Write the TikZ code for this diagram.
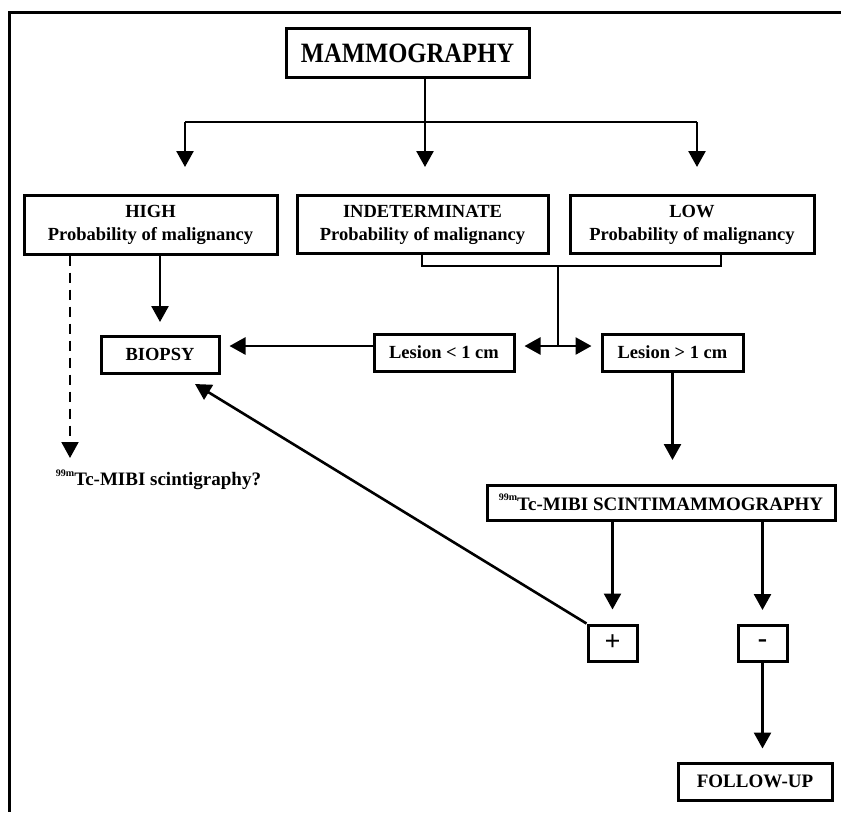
\documentclass[tikz,border=0pt]{standalone}
\usepackage{fontspec}
\setmainfont{Liberation Serif}
\usetikzlibrary{arrows.meta,calc}
\newcommand{\supnn}[1]{\raisebox{0.5em}{\fontsize{10}{10}\selectfont #1}}
\tikzset{
  box/.style={draw, line width=3pt, inner sep=0pt, font=\bfseries\fontsize{18.5}{23}\selectfont, align=center},
  conn/.style={line width=2.6pt},
  arr/.style={conn, -{Triangle[width=17pt,length=16pt]}},
  dbl/.style={conn, {Triangle[width=17pt,length=16pt]}-{Triangle[width=17pt,length=16pt]}},
}
\begin{document}
\begin{tikzpicture}[x=1pt,y=-1pt]
\useasboundingbox (0,0) rectangle (841,812);
% frame
\draw[line width=3pt] (841,12) -- (9,12) -- (9,812);
% nodes
\node[box, minimum width=243pt, minimum height=49pt, font=\bfseries\fontsize{28}{30}\selectfont] (mammo) at (407.5,53) {\scalebox{0.88}[1]{MAMMOGRAPHY}};
\node[box, minimum width=253pt, minimum height=59pt] (high) at (150.5,224.5) {HIGH\\Probability of malignancy};
\node[box, minimum width=251pt, minimum height=58pt] (indet) at (422.5,224.5) {INDETERMINATE\\Probability of malignancy};
\node[box, minimum width=244pt, minimum height=58pt] (low) at (692,224.5) {LOW\\Probability of malignancy};
\node[box, minimum width=118pt, minimum height=37pt] (biopsy) at (160,354.5) {BIOPSY};
\node[box, minimum width=140pt, minimum height=37pt] (les1) at (444,352.5) {Lesion < 1 cm};
\node[box, minimum width=141pt, minimum height=37pt] (les2) at (672.5,352.5) {Lesion > 1 cm};
\node[box, minimum width=348pt, minimum height=35pt, font=\bfseries\fontsize{19}{22}\selectfont] (scinti) at (661,502.5) {\supnn{99m}Tc-MIBI SCINTIMAMMOGRAPHY};
\node[box, minimum width=49pt, minimum height=36pt, font=\bfseries\fontsize{28}{28}\selectfont] (plus) at (612.5,643) {+};
\node[box, minimum width=49pt, minimum height=36pt, font=\bfseries\fontsize{28}{28}\selectfont] (minus) at (762.5,643.5) {-};
\node[box, minimum width=154pt, minimum height=37pt, font=\bfseries\fontsize{19}{22}\selectfont] (follow) at (755,781.5) {FOLLOW-UP};
\node[font=\bfseries\fontsize{19}{22}\selectfont, inner sep=0pt] (scint) at (158.5,480) {\supnn{99m}Tc-MIBI scintigraphy?};
% coordinates
\coordinate (j) at (425,122);
\coordinate (t1) at (185,167);
\coordinate (t2) at (425,167);
\coordinate (t3) at (697,167);
\coordinate (tb) at (160,322);
\coordinate (td) at (70,458);
\coordinate (bl) at (422,266);
\coordinate (br) at (721,266);
\coordinate (bm) at (558,266);
\coordinate (bj) at (558,346);
\coordinate (ts) at (672.5,460);
\coordinate (tq) at (195,384);
% connectors
\draw[conn] (mammo.south -| j) -- (j);
\draw[conn] (t1 |- j) -- (t3 |- j);
\draw[arr] (t1 |- j) -- (t1);
\draw[arr] (j) -- (t2);
\draw[arr] (t3 |- j) -- (t3);
\draw[arr] (high.south -| tb) -- (tb);
\draw[conn, line width=2pt, dash pattern=on 10pt off 7pt, -{Triangle[width=17pt,length=16pt]}] (high.south -| td) -- (td);
\draw[conn] (bl |- indet.south) -- (bl) -- (br) -- (br |- low.south);
\draw[conn] (bm) -- (bj);
\draw[dbl, shorten <=9pt, shorten >=9pt] (les1.east |- bj) -- (les2.west |- bj);
\draw[arr, shorten >=9pt] (les1.west |- bj) -- (biopsy.east |- bj);
\draw[arr] (les2.south) -- (ts);
\draw[arr, shorten >=14pt] (scinti.south -| plus) -- (plus.north);
\draw[arr, shorten >=14pt] (scinti.south -| minus) -- (minus.north);
\draw[arr, shorten >=13pt] (minus.south) -- (follow.north -| minus);
\draw[arr] (plus.north west) -- (tq);
\end{tikzpicture}
\end{document}
